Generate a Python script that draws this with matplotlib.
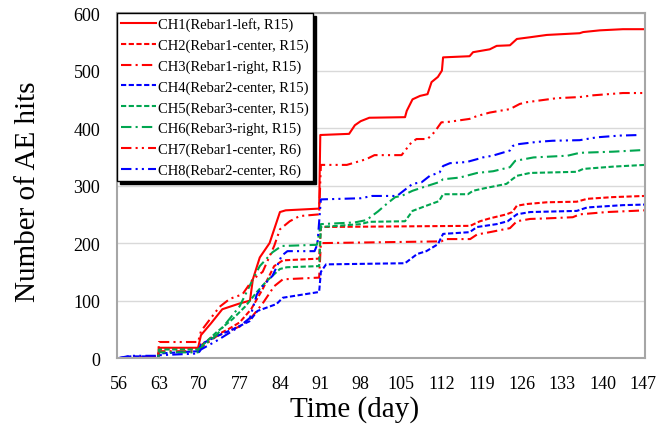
import matplotlib.pyplot as plt
import numpy as np

plt.rcParams['font.family'] = ['Liberation Serif', 'DejaVu Serif']

# (day, cumulative AE hits)
ch1_day = [56, 62.9, 63, 69.8, 70.3, 72, 74, 77, 78.8, 79.3, 80.5, 82.2, 84, 85, 90.8, 91,
           96, 97, 98, 99.5, 105.7, 106, 107, 108.3, 109.6, 110.3, 111.4, 112.1, 112.3,
           116.9, 117.5, 120.4, 121.6, 123.9, 125.1, 127.4, 130.3, 136, 136.6, 139.5, 143.5, 147.3]
ch1_val = [0, 0, 18, 18, 40, 60, 85, 95, 100, 137, 175, 200, 254, 257, 260, 388,
           390, 405, 412, 418, 419, 430, 450, 456, 459, 480, 489, 500, 523,
           525, 532, 537, 543, 544, 555, 558, 562, 565, 567, 570, 572, 572]

ch2_day = [56, 62.9, 63, 69.8, 70.3, 72, 75, 77, 79, 81, 83, 84.5, 90.8, 91.1, 117, 118.7,
           120.4, 123.3, 124.3, 125.1, 126.9, 130.3, 135.5, 137.3, 141.8, 147.3]
ch2_val = [0, 2, 17, 17, 22, 35, 50, 62, 85, 120, 160, 170, 173, 228, 230, 238,
           243, 250, 254, 265, 268, 271, 272, 277, 280, 282]

ch3_day = [56, 62.9, 63, 69.8, 70.3, 73, 77, 79, 81, 83, 84.5, 90.8, 91.1, 112, 112.7, 117,
           118.2, 120.4, 123.9, 125.1, 127.4, 130.3, 134.8, 136, 140.7, 145.2, 147.3]
ch3_val = [0, 2, 12, 12, 18, 38, 55, 70, 95, 125, 137, 140, 200, 203, 207, 207,
           215, 219, 226, 238, 242, 243, 245, 250, 254, 256, 257]

ch4_day = [56, 58, 62.9, 63, 69.8, 70.3, 73, 75.8, 78.7, 80.1, 83.4, 84.5, 90.8, 91.1, 92,
           105.7, 107.8, 109.4, 111.4, 112.3, 116.9, 118.2, 121.6, 123.5, 125.1, 127.4,
           135.5, 137.3, 143.5, 147.3]
ch4_val = [0, 3, 3, 8, 12, 24, 38, 50, 64, 82, 94, 105, 115, 150, 163,
           165, 181, 186, 198, 216, 219, 228, 233, 238, 250, 254,
           256, 262, 266, 267]

ch5_day = [56, 62.9, 63, 69.8, 70.3, 73, 75.8, 78, 80, 81.7, 84, 85.2, 90.8, 91.1, 98, 99.5,
           105.7, 107, 109.4, 111.6, 112.3, 116.6, 117.5, 119.3, 123.3, 124.3, 125.1, 127.4,
           131.5, 135.5, 136.6, 141.8, 147.3]
ch5_val = [0, 0, 15, 15, 20, 45, 68, 90, 115, 134, 155, 158, 160, 228, 233, 237,
           238, 256, 265, 273, 285, 285, 291, 295, 303, 311, 317, 322,
           323, 324, 329, 333, 336]

ch6_day = [56, 62.9, 63, 69.8, 70.3, 73, 77, 79.3, 80.5, 82.7, 84, 84.3, 90.4, 91.1, 97, 99,
           101, 102.5, 104, 105.1, 107, 108.8, 111.6, 112.3, 115.2, 118.2, 121, 123.9, 124.8,
           128, 133.9, 136, 141.8, 147.3]
ch6_val = [0, 0, 10, 10, 18, 40, 90, 137, 160, 184, 193, 195, 197, 233, 236, 240,
           255, 268, 280, 282, 291, 297, 306, 311, 314, 322, 325, 332, 343,
           349, 352, 357, 359, 362]

ch7_day = [56, 62.9, 63, 69.8, 70.3, 73.5, 75.3, 77.5, 79.3, 81, 83, 84, 85.7, 87.4, 90.8,
           91.1, 95.6, 97.3, 99, 100.4, 105.1, 106.8, 107.7, 109.6, 110.8, 112, 113.4,
           116.9, 118.2, 120.4, 122.1, 123.9, 125.6, 126.8, 132, 136, 138.3, 143.5, 147.3]
ch7_val = [0, 3, 28, 28, 47, 89, 103, 111, 137, 150, 195, 224, 238, 247, 250,
           336, 336, 341, 346, 353, 353, 375, 381, 381, 393, 410, 411,
           416, 421, 427, 430, 433, 442, 445, 452, 454, 457, 461, 461]

ch8_day = [56, 58, 62.9, 63, 69.8, 70.3, 73, 77, 78.8, 80, 81, 82.7, 83.4, 84.3, 85.3, 90,
           90.5, 91.1, 98, 100, 104.3, 107, 108.6, 110, 111.7, 112.3, 113.5, 116.4, 118.2,
           119.2, 120.9, 123.9, 124.4, 125.3, 128.6, 131.3, 136, 139, 143, 146.5]
ch8_val = [0, 4, 4, 5, 8, 15, 30, 55, 70, 111, 125, 143, 158, 178, 186, 186,
           198, 276, 278, 282, 282, 303, 306, 317, 323, 334, 339, 341, 346,
           349, 352, 361, 369, 372, 376, 378, 379, 384, 387, 388]

labels = ['CH1(Rebar1-left, R15)', 'CH2(Rebar1-center, R15)', 'CH3(Rebar1-right, R15)',
          'CH4(Rebar2-center, R15)', 'CH5(Rebar3-center, R15)', 'CH6(Rebar3-right, R15)',
          'CH7(Rebar1-center, R6)', 'CH8(Rebar2-center, R6)']
x_ticks = [56, 63, 70, 77, 84, 91, 98, 105, 112, 119, 126, 133, 140, 147]

red, blue, green = '#FF0000', '#0000FF', '#00A650'
dash = (0, (2.5, 1.2))
dashdot = (0, (5, 2, 1, 2))
dashdotdot = (0, (5, 2, 1, 2, 1, 2))

series = [
    (ch1_day, ch1_val, red, '-'),
    (ch2_day, ch2_val, red, dash),
    (ch3_day, ch3_val, red, dashdot),
    (ch4_day, ch4_val, blue, dash),
    (ch5_day, ch5_val, green, dash),
    (ch6_day, ch6_val, green, dashdot),
    (ch7_day, ch7_val, red, dashdotdot),
    (ch8_day, ch8_val, blue, dashdotdot),
]

fig = plt.figure(figsize=(6.6, 4.27), dpi=100)
ax = fig.add_axes([0.177, 0.159, 0.800, 0.808])

for (d, v, c, ls), lab in zip(series, labels):
    ax.plot(d, v, color=c, linestyle=ls, linewidth=1.5, label=lab)

ax.set_xlim(55.7, 147.3)
ax.set_ylim(0, 600)
ax.set_xticks(x_ticks)
ax.set_yticks(np.arange(0, 601, 100))
ax.tick_params(length=0, labelsize=13, pad=12)
ax.yaxis.grid(True, color='#D9D9D9', linewidth=1)
ax.set_axisbelow(True)
for sp in ax.spines.values():
    sp.set_color('#A6A6A6')
    sp.set_linewidth(1.5)

ax.set_xlabel('Time (day)', fontsize=21)
ax.set_ylabel('Number of AE hits', fontsize=21)
ax.xaxis.set_label_coords(0.451, -0.107)
ax.yaxis.set_label_coords(-0.144, 0.484)

leg = ax.legend(loc='upper left', bbox_to_anchor=(0.0, 1.0), fontsize=10.5,
                frameon=True, fancybox=False, shadow={'color': 'black', 'alpha': 1},
                handlelength=2.4, handletextpad=0.1, labelspacing=0.5,
                borderpad=0.3, borderaxespad=0.0)
leg.get_frame().set_edgecolor('black')
leg.get_frame().set_linewidth(1.0)
leg.get_frame().set_alpha(1)

fig.savefig('out.png', dpi=100)
